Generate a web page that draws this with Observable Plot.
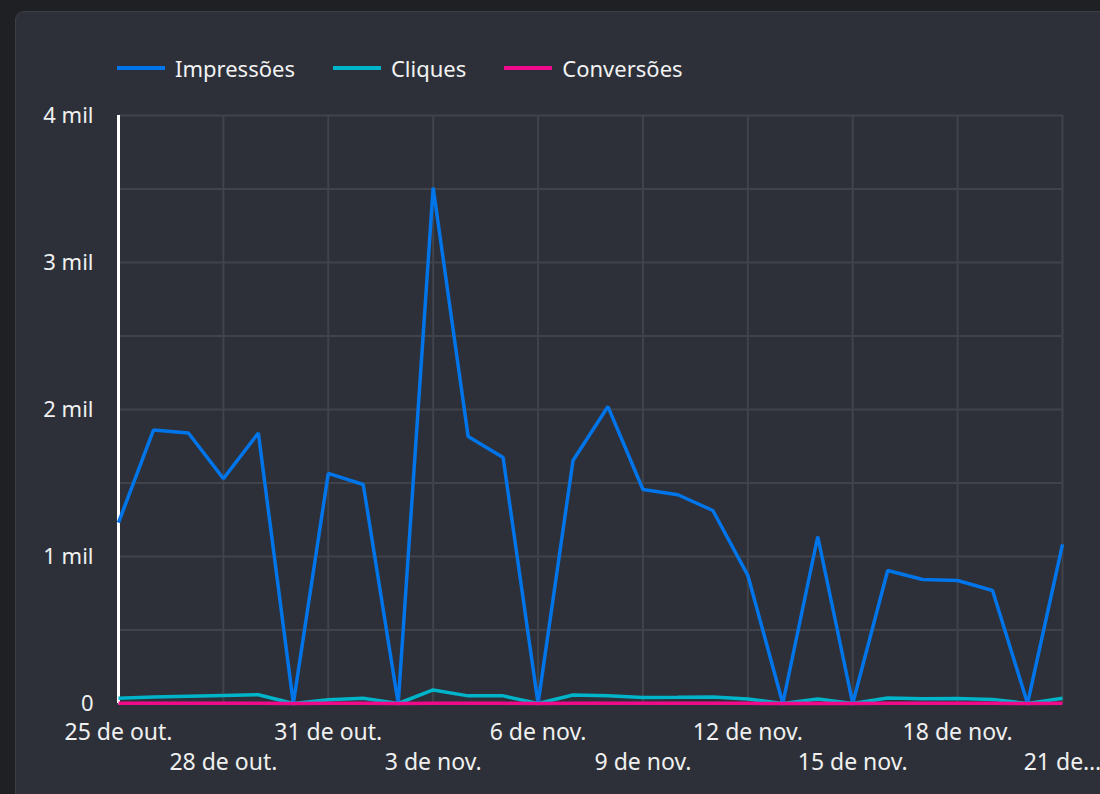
<!DOCTYPE html>
<html>
<head>
<meta charset="utf-8">
<script src="https://cdn.jsdelivr.net/npm/d3@7"></script>
<script src="https://cdn.jsdelivr.net/npm/@observablehq/plot@0.6"></script>
<style>
  html, body { margin: 0; padding: 0; background: #1f2023; width: 1100px; height: 794px; overflow: hidden; font-family: "Noto Sans", sans-serif; }
  #card { position: absolute; left: 15px; top: 11px; width: 1200px; height: 900px; background: #2d3039; border: 1px solid #3b3e46; border-radius: 9px; box-sizing: border-box; }
  #legend { position: absolute; left: 117px; top: 53px; display: flex; align-items: center; color: #f2f2f2; font-size: 22px; }
  .item { display: flex; align-items: center; margin-right: 38px; }
  .sw { width: 48px; height: 4px; margin-right: 10px; }
  #chart { position: absolute; left: 0; top: 95px; }
</style>
</head>
<body>
<div id="card"></div>
<div id="legend"></div>
<div id="chart"></div>
<script>
const dates = ["2023-10-25","2023-10-26","2023-10-27","2023-10-28","2023-10-29","2023-10-30","2023-10-31",
  "2023-11-01","2023-11-02","2023-11-03","2023-11-04","2023-11-05","2023-11-06","2023-11-07",
  "2023-11-08","2023-11-09","2023-11-10","2023-11-11","2023-11-12","2023-11-13","2023-11-14",
  "2023-11-15","2023-11-16","2023-11-17","2023-11-18","2023-11-19","2023-11-20","2023-11-21"];
const impressoes = [1230,1860,1840,1530,1840,0,1565,1490,0,3510,1816,1673,0,1653,2020,1456,1420,1313,872,0,1136,0,905,844,837,769,0,1082];
const cliques = [35,45,50,55,60,0,25,35,0,92,52,52,0,58,52,40,42,45,30,0,30,0,38,32,34,28,0,36];
const conversoes = [1,1,1,1,1,0,1,1,0,2,1,1,0,1,1,1,1,1,1,0,1,0,1,1,1,1,0,1];
const seriesNames = ["Impressões","Cliques","Conversões"];
const seriesColors = ["#0075ea","#00b4c9","#ef0a8c"];
const xTickDates = ["2023-10-25","2023-10-28","2023-10-31","2023-11-03","2023-11-06","2023-11-09","2023-11-12","2023-11-15","2023-11-18","2023-11-21"];
const xTickLabels = ["25 de out.","28 de out.","31 de out.","3 de nov.","6 de nov.","9 de nov.","12 de nov.","15 de nov.","18 de nov.","21 de…"];
const yTicks = [0,1000,2000,3000,4000];
const yTickLabels = ["0","1 mil","2 mil","3 mil","4 mil"];
const yGrid = [500,1000,1500,2000,2500,3000,3500,4000];

const parse = d3.utcParse("%Y-%m-%d");
const rows = [];
[impressoes, cliques, conversoes].forEach((vals, s) => {
  vals.forEach((v, i) => rows.push({date: parse(dates[i]), value: v, series: seriesNames[s]}));
});
const xt = xTickDates.map(parse);
const labelOf = new Map(xt.map((d, i) => [+d, xTickLabels[i]]));
const row1 = xt.filter((d, i) => i % 2 === 0);
const row2 = xt.filter((d, i) => i % 2 === 1);

// legend
const lg = document.getElementById("legend");
seriesNames.forEach((n, i) => {
  const it = document.createElement("div");
  it.className = "item";
  it.innerHTML = `<div class="sw" style="background:${seriesColors[i]}"></div><span>${n}</span>`;
  lg.appendChild(it);
});

const W = 1100, H = 699;
const chart = Plot.plot({
  width: W, height: H,
  marginLeft: 118, marginRight: 38, marginTop: 20, marginBottom: 91,
  style: {background: "transparent", color: "#f0f0f0", fontFamily: "Noto Sans, sans-serif", fontSize: "22px", overflow: "visible"},
  x: {type: "utc", domain: [parse(dates[0]), parse(dates[dates.length - 1])], axis: null},
  y: {domain: [0, 4000], axis: null},
  color: {domain: seriesNames, range: seriesColors},
  marks: [
    Plot.gridY(yGrid, {stroke: "#40434a", strokeOpacity: 1, strokeWidth: 2}),
    Plot.gridX(xt.slice(1), {stroke: "#40434a", strokeOpacity: 1, strokeWidth: 2}),
    Plot.axisY(yTicks, {tickSize: 0, tickPadding: 25, tickFormat: d => yTickLabels[yTicks.indexOf(d)], fontSize: 22, fill: "#f0f0f0", label: null}),
    Plot.axisX(row1, {tickSize: 0, tickPadding: 20, tickFormat: d => labelOf.get(+d), fontSize: 23, fill: "#f0f0f0", label: null}),
    Plot.axisX(row2, {tickSize: 0, tickPadding: 50, tickFormat: d => labelOf.get(+d), fontSize: 23, fill: "#f0f0f0", label: null}),
    Plot.ruleY([0], {stroke: "#ffffff", strokeWidth: 2}),
    Plot.ruleX([parse(dates[0])], {y1: 0, y2: 4000, stroke: "#ffffff", strokeWidth: 3}),
    Plot.line(rows, {x: "date", y: "value", z: "series", stroke: "series", strokeWidth: 3.5, strokeLinejoin: "miter", strokeLinecap: "butt"})
  ]
});
document.getElementById("chart").appendChild(chart);
</script>
</body>
</html>
